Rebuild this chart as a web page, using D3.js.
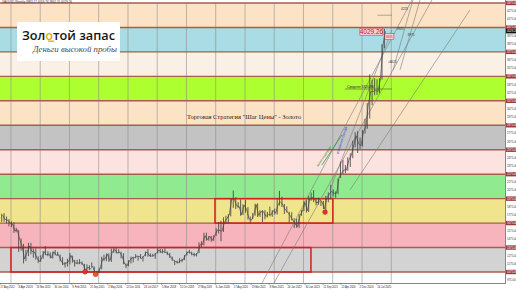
<!DOCTYPE html>
<html><head><meta charset="utf-8">
<script src="https://cdn.jsdelivr.net/npm/d3@7/dist/d3.min.js"></script>
<style>html,body{margin:0;padding:0;background:#fff;overflow:hidden}</style>
</head><body><svg id="c" width="516" height="290" xmlns="http://www.w3.org/2000/svg"></svg>
<script>
// ---------- DATA ----------
const firstMonth = "2012-09";
const highs = [1790,1796,1755,1723,
 1694,1685,1617,1587,1487,1420,1348,1434,1434,1362,1361,1267,
 1280,1332,1392,1331,1315,1325,1345,1322,1289,1256,1198,1238,
 1307,1276,1224,1225,1232,1205,1175,1170,1157,1191,1143,1088,
 1127,1263,1287,1303,1304,1362,1375,1367,1352,1324,1306,1180,
 1220,1264,1261,1295,1269,1296,1270,1326,1357,1306,1299,1309,
 1366,1361,1356,1365,1326,1309,1265,1217,1214,1243,1237,1284,
 1326,1347,1324,1310,1306,1439,1453,1555,1557,1517,1516,1525,
 1611,1689,1704,1747,1765,1786,1981,2075,1992,1933,1965,1906,
 1959,1871,1755,1798,1913,1917,1832,1834,1834,1813,1877,1831,
 1853,1974,2070,1998,1910,1879,1814,1808,1735,1730,1786,1833,
 1949,1960,2009,2049,2079,1984,1987,1949,1947,2009,2052,2146,
 2088,2065,2222,2431,2450,2387,2483,2531,2685,2790,2801,2726,
 2817,2956,3148,3500,3435,3452,3439,3453,3871,4059];
const lows = [1690,1692,1672,1635,
 1626,1555,1562,1321,1338,1180,1208,1270,1292,1251,1227,1187,
 1200,1237,1282,1268,1241,1240,1280,1274,1206,1161,1131,1142,
 1167,1190,1142,1170,1170,1162,1077,1080,1098,1136,1052,1046,
 1061,1108,1208,1208,1200,1199,1310,1302,1306,1241,1171,1123,
 1146,1180,1194,1244,1214,1238,1205,1267,1262,1260,1264,1236,
 1302,1307,1303,1309,1282,1246,1211,1160,1180,1183,1196,1221,
 1276,1303,1280,1266,1266,1306,1382,1400,1459,1459,1445,1456,
 1517,1547,1451,1567,1670,1671,1757,1863,1848,1859,1764,1775,
 1802,1717,1677,1724,1767,1750,1751,1687,1721,1746,1758,1753,
 1780,1780,1890,1872,1787,1805,1681,1709,1615,1618,1617,1765,
 1823,1804,1810,1949,1932,1893,1902,1884,1848,1810,1931,1973,
 2001,1984,2030,2228,2277,2286,2318,2364,2471,2604,2536,2583,
 2614,2772,2832,2957,3121,3245,3248,3268,3436,3820];
const closes = [1773,1719,1712,1675,
 1663,1578,1596,1476,1393,1234,1313,1395,1327,1323,1250,1202,
 1244,1326,1284,1296,1250,1322,1282,1286,1210,1171,1182,1199,
 1279,1212,1183,1183,1189,1172,1095,1133,1114,1142,1064,1061,
 1118,1238,1234,1293,1215,1321,1351,1309,1316,1272,1173,1151,
 1211,1249,1249,1268,1268,1242,1269,1322,1280,1271,1275,1303,
 1345,1318,1325,1315,1298,1253,1224,1201,1191,1215,1222,1282,
 1321,1313,1292,1284,1305,1409,1413,1520,1472,1513,1464,1517,
 1589,1585,1577,1686,1730,1781,1975,1967,1886,1879,1776,1895,
 1848,1734,1707,1769,1903,1770,1814,1814,1757,1783,1774,1829,
 1796,1909,1937,1897,1837,1807,1766,1711,1661,1633,1768,1824,
 1928,1827,1969,1990,1963,1919,1965,1940,1849,1983,2036,2063,
 2039,2044,2230,2286,2327,2326,2447,2503,2634,2744,2650,2624,
 2798,2857,3123,3289,3289,3303,3289,3448,3858,4029];

// price-step levels (band boundaries) and band colours (bottom-up)
const bandLevels = [1075,1375,1675,1975,2275,2575,2875,3175,3475,3775,4075,4375];
const bandColors = ["#d3d3d3","#f8b4bc","#f0e48c","#90ea90","#fde3e0","#c3c3c3",
                    "#fde3c6","#adff2f","#faf0e6","#a9dce4","#fde3c6"];
const priceTicks = [975,1175,1275,1475,1575,1775,1875,2075,2175,2375,2475,2675,2775,
                    2975,3075,3275,3375,3575,3675,3875,3975,4175,4275];
const dateLabels = ["27 Aug 2012","8 Apr 2013","18 Nov 2013","30 Jun 2014","9 Feb 2015",
 "21 Sep 2015","2 May 2016","12 Dec 2016","24 Jul 2017","5 Mar 2018","15 Oct 2018",
 "27 May 2019","6 Jan 2020","17 Aug 2020","29 Mar 2021","8 Nov 2021","20 Jun 2022",
 "30 Jan 2023","11 Sep 2023","22 Apr 2024","2 Dec 2024","14 Jul 2025"];
const lastPrice = 4029.26;
const titleText = "XAUUSD,Weekly  3883.17 4059.76 3861.55 4029.26";

// rectangles (consolidation zones), markers and drawn lines
const zones = [
  {from:"2013-01-10", to:"2023-04-13", lo:1075, hi:1375},
  {from:"2020-01-01", to:"2024-01-12", lo:1675, hi:1975}];
const markers = [
  {date:"2015-07-24", price:1077, color:"#e8322a"},
  {date:"2015-12-03", price:1046, color:"#ef5a22"},
  {date:"2023-10-06", price:1810, color:"#e8322a"}];
const fanLines = [
  ["2021-08-10",940,"2026-09-25",4412],
  ["2022-01-07",940,"2027-06-02",4412],
  ["2023-12-06",2081,"2026-01-19",4044],
  ["2024-08-12",2081,"2028-09-19",4290],
  ["2026-02-01",3554,"2026-10-07",4412],
  ["2026-04-29",3554,"2027-01-03",4412]];
const greenLine = ["2023-08-29",2388,"2024-05-04",2756];
const avgLine = {from:"2024-06-11", to:"2026-01-19", price:3320, label:"Средняя 3320.86"};
const levelMarks = [
  {from:"2025-07-20", to:"2026-01-19", price:4225},
  {from:"2025-12-01", to:"2026-01-19", price:3650}];
const levelTexts = [
  {date:"2026-05-10", price:4290, text:"4225"},
  {date:"2026-03-20", price:4040, text:"3925"},
  {date:"2026-08-01", price:3975, text:"3975"},
  {date:"2025-12-20", price:3640, text:"3625"}];

// ---------- CHART ----------
const svg = d3.select("#c");
const plotR = 505, plotB = 283;
const parse = d3.timeParse("%Y-%m-%d");
const x = d3.scaleTime().domain([new Date(2012,7,26), new Date(2029,11,31)]).range([0,507.5]);
const y = d3.scaleLinear().domain([1075,4375]).range([272,3]);
const m0 = d3.timeParse("%Y-%m")(firstMonth);
const monthMid = i => d3.timeDay.offset(d3.timeMonth.offset(m0,i),15);

svg.append("rect").attr("width",516).attr("height",290).attr("fill","#fff");
svg.append("defs").append("clipPath").attr("id","clip")
  .append("rect").attr("x",0).attr("y",0).attr("width",plotR).attr("height",plotB);
const g = svg.append("g").attr("clip-path","url(#clip)");

// bands
g.selectAll("rect.band").data(bandColors).join("rect")
  .attr("x",0).attr("width",plotR)
  .attr("y",(c,i)=>y(bandLevels[i+1])).attr("height",(c,i)=>y(bandLevels[i])-y(bandLevels[i+1]))
  .attr("fill",c=>c);

// vertical grid (yearly)
const gridDates = d3.range(14).map(i=>d3.timeYear.offset(new Date(2013,0,10),i));
g.selectAll("line.grid").data(gridDates).join("line")
  .attr("x1",d=>x(d)).attr("x2",d=>x(d)).attr("y1",y(4375)).attr("y2",plotB)
  .attr("stroke","#8f8f8f").attr("stroke-width",0.6);

// level lines
g.selectAll("line.lvl").data(bandLevels).join("line")
  .attr("x1",0).attr("x2",plotR).attr("y1",d=>y(d)).attr("y2",d=>y(d))
  .attr("stroke","#a35e4e").attr("stroke-width",1.4);

// zones
g.selectAll("rect.zone").data(zones).join("rect")
  .attr("x",d=>x(parse(d.from))).attr("y",d=>y(d.hi))
  .attr("width",d=>x(parse(d.to))-x(parse(d.from))).attr("height",d=>y(d.lo)-y(d.hi))
  .attr("fill","none").attr("stroke","#d21f1f").attr("stroke-width",1.5);

// fan / trend lines
g.selectAll("line.fan").data(fanLines).join("line")
  .attr("x1",d=>x(parse(d[0]))).attr("y1",d=>y(d[1]))
  .attr("x2",d=>x(parse(d[2]))).attr("y2",d=>y(d[3]))
  .attr("stroke","#7a7a7a").attr("stroke-width",0.6);

// green line + text
const gx1=x(parse(greenLine[0])), gy1=y(greenLine[1]), gx2=x(parse(greenLine[2])), gy2=y(greenLine[3]);
g.append("line").attr("x1",gx1).attr("y1",gy1).attr("x2",gx2).attr("y2",gy2)
  .attr("stroke","#2a9a3a").attr("stroke-width",0.8);
const ga = Math.atan2(gy2-gy1,gx2-gx1)*180/Math.PI;
g.append("text").attr("transform",`translate(${gx1-4},${gy1+2}) rotate(${ga})`)
  .attr("font-size",3).attr("fill","#2a7a2a").attr("font-family","Liberation Sans, Arial")
  .text("линия поддержки");

// price bars
const bars = g.append("g");
bars.selectAll("line").data(highs).join("line")
  .attr("x1",(d,i)=>x(monthMid(i))).attr("x2",(d,i)=>x(monthMid(i)))
  .attr("y1",d=>y(d)).attr("y2",(d,i)=>y(lows[i]))
  .attr("stroke","#454545").attr("stroke-width",0.85);
g.append("path").datum(closes)
  .attr("d",d3.line().x((d,i)=>x(monthMid(i))+1).y(d=>y(d)))
  .attr("fill","none").attr("stroke","#454545").attr("stroke-width",0.7);

// blue rotated text along rally
g.append("text").attr("transform",`translate(${x(parse("2024-03-20"))},${y(2520)}) rotate(-72)`)
  .attr("font-size",3.4).attr("fill","#2b3fd0").attr("font-family","Liberation Sans, Arial")
  .text("ускорение тренда");

// average line
g.append("line").attr("x1",x(parse(avgLine.from))).attr("x2",x(parse(avgLine.to)))
  .attr("y1",y(avgLine.price)).attr("y2",y(avgLine.price)).attr("stroke","#555").attr("stroke-width",0.6);
g.append("text").attr("x",x(parse(avgLine.from))+2).attr("y",y(avgLine.price)-1)
  .attr("font-size",3.4).attr("fill","#222").attr("font-family","Liberation Sans, Arial").text(avgLine.label);

g.selectAll("line.lm").data(levelMarks).join("line")
  .attr("x1",d=>x(parse(d.from))).attr("x2",d=>x(parse(d.to)))
  .attr("y1",d=>y(d.price)).attr("y2",d=>y(d.price)).attr("stroke","#777").attr("stroke-width",0.6);
g.selectAll("text.lt").data(levelTexts).join("text")
  .attr("x",d=>x(parse(d.date))).attr("y",d=>y(d.price))
  .attr("font-size",3.2).attr("fill","#333").attr("font-family","Liberation Sans, Arial").text(d=>d.text);

// last price callout
const lpx = x(parse("2025-10-10"));
const lpBox = g.append("g");
lpBox.append("rect").attr("x",lpx-24).attr("y",y(lastPrice)-3).attr("width",23).attr("height",7)
  .attr("fill","#f6d2d6").attr("stroke","#c23030").attr("stroke-width",0.5);
lpBox.append("text").attr("x",lpx-12.5).attr("y",y(lastPrice)+2.8).attr("text-anchor","middle")
  .attr("font-size",6.5).attr("fill","#c01818").attr("font-family","Liberation Sans, Arial").text(lastPrice.toFixed(2));
g.append("rect").attr("x",lpx+1).attr("y",y(3975)-2).attr("width",9).attr("height",6)
  .attr("fill","#f6d2d6").attr("stroke","#c23030").attr("stroke-width",0.5);
g.append("text").attr("x",lpx+5.5).attr("y",y(3975)+2.2).attr("text-anchor","middle")
  .attr("font-size",3).attr("fill","#c01818").attr("font-family","Liberation Sans, Arial").text("3925");

// markers
g.selectAll("circle.mk").data(markers).join("circle")
  .attr("cx",d=>x(parse(d.date))).attr("cy",d=>y(d.price)).attr("r",2.4)
  .attr("fill",d=>d.color).attr("stroke","#a01010").attr("stroke-width",0.4);

// strategy title
g.append("text").attr("x",187).attr("y",119).attr("font-size",7)
  .attr("font-family","Liberation Serif, Times New Roman, serif").attr("fill","#222")
  .attr("textLength",114).attr("lengthAdjust","spacingAndGlyphs")
  .text("Торговая Стратегия \"Шаг Цены\" - Золото");

// logo
const logo = svg.append("g");
logo.append("rect").attr("x",17).attr("y",22).attr("width",103).attr("height",39).attr("fill","#fff");
const lt = logo.append("text").attr("x",22).attr("y",39.5).attr("font-size",12.6)
  .attr("font-family","Open Sans, Roboto, sans-serif").attr("font-weight",600).attr("fill","#151515")
  .attr("textLength",93).attr("lengthAdjust","spacingAndGlyphs");
lt.append("tspan").text("Зол");
lt.append("tspan").attr("fill","#e0aa10").text("о");
lt.append("tspan").text("той запас");
logo.append("rect").attr("x",48).attr("y",40.5).attr("width",6).attr("height",1.3).attr("fill","#e0aa10");
logo.append("text").attr("x",33).attr("y",51.5).attr("font-size",9)
  .attr("font-family","Liberation Serif, Times New Roman, serif").attr("font-style","italic").attr("fill","#4a4a4a")
  .attr("textLength",84).attr("lengthAdjust","spacingAndGlyphs").text("Деньги высокой пробы");

// top title
svg.append("text").attr("x",2).attr("y",2.6).attr("font-size",2.8).attr("fill","#333")
  .attr("font-family","Liberation Sans, Arial").attr("textLength",70).attr("lengthAdjust","spacingAndGlyphs").text(titleText);

// axes
svg.append("line").attr("x1",0).attr("x2",plotR).attr("y1",plotB+0.5).attr("y2",plotB+0.5).attr("stroke","#666").attr("stroke-width",0.8);
svg.append("line").attr("x1",plotR+0.5).attr("x2",plotR+0.5).attr("y1",0).attr("y2",plotB+1).attr("stroke","#666").attr("stroke-width",0.8);
const pd = d3.timeParse("%-d %b %Y");
svg.selectAll("text.dl").data(dateLabels).join("text")
  .attr("x",d=>x(pd(d))+0.5).attr("y",288.3).attr("font-size",2.8).attr("fill","#222")
  .attr("font-family","Liberation Sans, Arial").attr("textLength",14).attr("lengthAdjust","spacingAndGlyphs").text(d=>d);
svg.selectAll("line.dt").data(dateLabels).join("line")
  .attr("x1",d=>x(pd(d))).attr("x2",d=>x(pd(d))).attr("y1",plotB).attr("y2",plotB+2).attr("stroke","#666").attr("stroke-width",0.5);
svg.selectAll("text.pt").data(priceTicks).join("text")
  .attr("x",507).attr("y",d=>y(d)+1).attr("font-size",2.8).attr("fill","#333")
  .attr("font-family","Liberation Sans, Arial").text(d=>d.toFixed(2));
const ax = svg.append("g");
ax.selectAll("rect").data(bandLevels).join("rect")
  .attr("x",506).attr("y",d=>y(d)-2.2).attr("width",10).attr("height",4.4).attr("fill","#9a3b3b");
ax.selectAll("text").data(bandLevels).join("text")
  .attr("x",507).attr("y",d=>y(d)+1).attr("font-size",2.8).attr("fill","#fff")
  .attr("font-family","Liberation Sans, Arial").text(d=>d.toFixed(2));
svg.append("rect").attr("x",506).attr("y",y(lastPrice)-2.2).attr("width",10).attr("height",4.4).attr("fill","#111");
svg.append("text").attr("x",507).attr("y",y(lastPrice)+1).attr("font-size",2.8).attr("fill","#fff")
  .attr("font-family","Liberation Sans, Arial").text(lastPrice.toFixed(2));
</script></body></html>
